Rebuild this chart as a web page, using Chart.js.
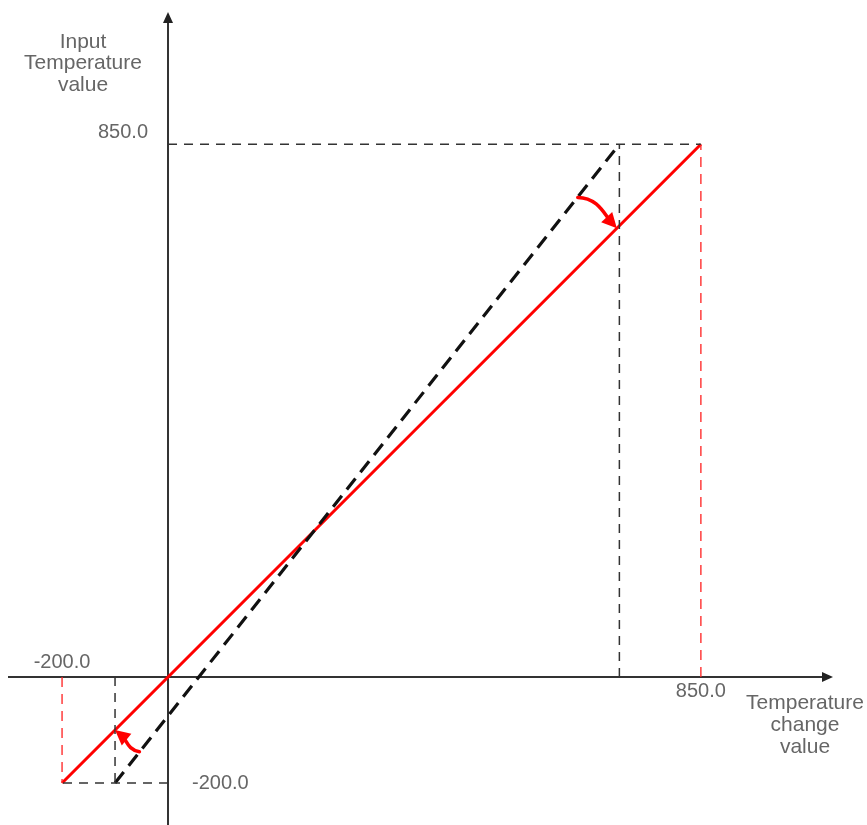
<!DOCTYPE html>
<html>
<head>
<meta charset="utf-8">
<script src="https://cdn.jsdelivr.net/npm/chart.js@4/dist/chart.umd.min.js"></script>
<style>
  html, body { margin: 0; padding: 0; background: #fff; overflow: hidden; }
  #wrap { position: relative; width: 867px; height: 825px; }
</style>
</head>
<body>
<div id="wrap"><canvas id="myChart"></canvas></div>
<script>
// values
const xTicks = [-200, 850];
const xTickLabels = ['-200.0', '850.0'];
const yTicks = [-200, 850];
const yTickLabels = ['-200.0', '850.0'];

// corrected (red) and original (black dashed) conversion lines
const correctedX = [-200, 850];
const correctedY = [-200, 850];
const originalX = [-100, 720];
const originalY = [-200, 850];

// curved arrows: start on the original line (y value), end on the corrected line (x value)
const arrowFromY = [765, -141];
const arrowToX = [716, -100];

const yTitle = ['Input', 'Temperature', 'value'];
const xTitle = ['Temperature', 'change', 'value'];

// the drawing is not to scale: the negative side is squeezed
class SchematicScale extends Chart.LinearScale {
  getPixelForValue(value) {
    const k = this.options.negFactor || 1;
    return super.getPixelForValue(value < 0 ? value * k : value);
  }
  getValueForPixel(pixel) {
    const v = super.getValueForPixel(pixel);
    return v < 0 ? v / (this.options.negFactor || 1) : v;
  }
}
SchematicScale.id = 'schematic';
SchematicScale.defaults = Chart.LinearScale.defaults;
Chart.register(SchematicScale);

const RED = '#ff0000';
const GUIDE = '#333333';

function seg(x1, y1, x2, y2, color, dash, width) {
  return {
    data: [{ x: x1, y: y1 }, { x: x2, y: y2 }],
    showLine: true,
    borderColor: color,
    borderWidth: width,
    borderDash: dash,
    pointRadius: 0,
    fill: false
  };
}

const datasets = [];
for (let i = 0; i < correctedX.length; i++) {
  // black guides of the original line
  datasets.push(seg(originalX[i], 0, originalX[i], originalY[i], GUIDE, [9, 7], 1.5));
  datasets.push(seg(0, originalY[i], correctedX[i], originalY[i], GUIDE, [9, 7], 1.5));
  // red guides of the corrected line
  datasets.push(seg(correctedX[i], 0, correctedX[i], correctedY[i], 'rgba(255,40,40,0.9)', [10, 7], 1.5));
}
datasets.push(seg(originalX[0], originalY[0], originalX[1], originalY[1], '#111111', [14, 8], 3.2));
datasets.push(seg(correctedX[0], correctedY[0], correctedX[1], correctedY[1], RED, [], 3));

function arrowHead(ctx, tipX, tipY, fromX, fromY, len, half, color) {
  const a = Math.atan2(tipY - fromY, tipX - fromX);
  ctx.save();
  ctx.fillStyle = color;
  ctx.beginPath();
  ctx.moveTo(tipX, tipY);
  ctx.lineTo(tipX - len * Math.cos(a) + half * Math.sin(a), tipY - len * Math.sin(a) - half * Math.cos(a));
  ctx.lineTo(tipX - len * Math.cos(a) - half * Math.sin(a), tipY - len * Math.sin(a) + half * Math.cos(a));
  ctx.closePath();
  ctx.fill();
  ctx.restore();
}

const diagram = {
  id: 'diagram',
  beforeDatasetsDraw(chart) {
    const { ctx, chartArea, scales: { x, y } } = chart;
    const x0 = x.getPixelForValue(0);
    const y0 = y.getPixelForValue(0);
    ctx.save();
    ctx.strokeStyle = '#333';
    ctx.lineWidth = 2;
    ctx.beginPath();
    ctx.moveTo(x0, chartArea.bottom);
    ctx.lineTo(x0, chartArea.top + 20);
    ctx.moveTo(chartArea.left + 8, y0);
    ctx.lineTo(chartArea.right - 42, y0);
    ctx.stroke();
    ctx.restore();
    arrowHead(ctx, x0, chartArea.top + 12, x0, chartArea.top + 40, 11, 5, '#222');
    arrowHead(ctx, chartArea.right - 34, y0, chartArea.right - 60, y0, 11, 5, '#222');
  },
  afterDatasetsDraw(chart) {
    const { ctx, chartArea, scales: { x, y } } = chart;
    const x0 = x.getPixelForValue(0);
    const y0 = y.getPixelForValue(0);

    // rotation arrows (original line -> corrected line)
    for (let i = 0; i < arrowFromY.length; i++) {
      const t = (arrowFromY[i] - originalY[0]) / (originalY[1] - originalY[0]);
      const sx = x.getPixelForValue(originalX[0] + t * (originalX[1] - originalX[0]));
      const sy = y.getPixelForValue(arrowFromY[i]);
      const ex = x.getPixelForValue(arrowToX[i]);
      const ey = y.getPixelForValue(arrowToX[i]);
      const up = i === 0;
      const c1x = sx + (up ? 20 : -12), c1y = sy + (up ? 0 : -2);
      const c2x = ex + (up ? -12 : 12), c2y = ey + (up ? -13 : 10);
      // stop the stroke a bit before the tip so the head stays sharp
      const L = Math.hypot(ex - c2x, ey - c2y);
      const bx = ex - (ex - c2x) / L * 9, by = ey - (ey - c2y) / L * 9;
      ctx.save();
      ctx.strokeStyle = RED;
      ctx.lineWidth = 3.5;
      ctx.lineCap = 'round';
      ctx.beginPath();
      ctx.moveTo(sx, sy);
      ctx.bezierCurveTo(c1x, c1y, c2x, c2y, bx, by);
      ctx.stroke();
      ctx.restore();
      arrowHead(ctx, ex, ey, c2x, c2y, 15, 7.5, RED);
    }

    ctx.save();
    ctx.fillStyle = '#666';
    ctx.font = '20px "Liberation Sans", Arial, sans-serif';
    ctx.textBaseline = 'middle';

    // x tick labels
    xTicks.forEach((v, i) => {
      ctx.textAlign = 'center';
      const px = x.getPixelForValue(v);
      ctx.fillText(xTickLabels[i], px, v < 0 ? y0 - 15 : y0 + 14);
    });
    // y tick labels
    yTicks.forEach((v, i) => {
      const py = y.getPixelForValue(v);
      if (v < 0) {
        ctx.textAlign = 'left';
        ctx.fillText(yTickLabels[i], x0 + 24, py);
      } else {
        ctx.textAlign = 'right';
        ctx.fillText(yTickLabels[i], x0 - 20, py - 12);
      }
    });

    ctx.font = '21px "Liberation Sans", Arial, sans-serif';
    ctx.textAlign = 'center';
    yTitle.forEach((s, i) => ctx.fillText(s, x0 - 85, chartArea.top + 42 + i * 21.5));
    xTitle.forEach((s, i) => ctx.fillText(s, chartArea.right - 62, y0 + 26 + i * 22));
    ctx.restore();
  }
};

const config = {
  type: 'scatter',
  data: { datasets },
  options: {
    responsive: true,
    maintainAspectRatio: false,
    animation: false,
    layout: { padding: 0 },
    plugins: {
      legend: { display: false },
      tooltip: { enabled: false }
    },
    scales: {
      x: {
        type: 'schematic',
        min: -268,
        max: 1115,
        negFactor: 0.845,
        display: false
      },
      y: {
        type: 'schematic',
        min: -236,
        max: 1080,
        negFactor: 0.845,
        display: false
      }
    }
  },
  plugins: [diagram]
};

const myChart = new Chart(document.getElementById('myChart'), config);
</script>
</body>
</html>
